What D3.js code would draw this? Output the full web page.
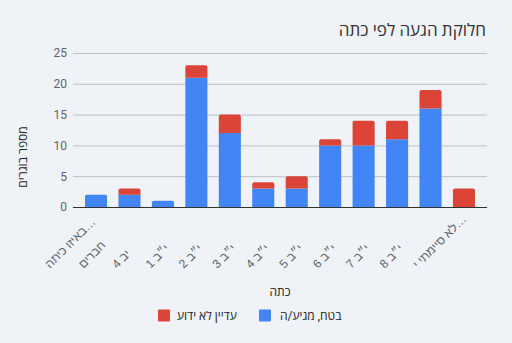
<!DOCTYPE html>
<html><head><meta charset="utf-8">
<script src="https://cdn.jsdelivr.net/npm/d3@7"></script>
<style>
html,body{margin:0;padding:0;background:#eff2f7;}
svg{display:block;font-family:Roboto,"Open Sans",Arial,sans-serif;}
</style></head><body>
<svg id="c" width="512" height="343"></svg>
<script>
const categories = ["באיזו כיתה…","חברים","יב 4","י״ב 1","י״ב 2","י״ב 3","י״ב 4","י״ב 5","י״ב 6","י״ב 7","י״ב 8","לא סיימתי י…"];
const seriesNames = ["בטח, מגיע/ה","עדיין לא ידוע"];
const comingValues  = [2,2,1,21,12,3,3,10,10,11,16,0];
const unknownValues = [0,1,0,2,3,1,2,1,4,3,3,3];
const yTicks = [0,5,10,15,20,25];
const colors = ["#4285f4","#db4437"];

const svg = d3.select("#c");
const W=512,H=343;
svg.append("rect").attr("width",W).attr("height",H).attr("fill","#eff2f7");

const x = d3.scaleBand().domain(categories).range([79.3,480.7]).paddingInner(0.34).paddingOuter(0.17);
const y = d3.scaleLinear().domain([0,25]).range([207,53]);
const gridL=73, gridR=487;

// gridlines
svg.append("g").selectAll("line").data(yTicks.filter(t=>t>0)).join("line")
  .attr("x1",gridL).attr("x2",gridR).attr("y1",d=>y(d)+0.5).attr("y2",d=>y(d)+0.5)
  .attr("stroke","#bdc1c6").attr("stroke-width",1);

// y axis tick labels via d3 axis
const yAxis = d3.axisLeft(y).tickValues(yTicks).tickSize(0).tickPadding(0);
const yg = svg.append("g").attr("transform",`translate(${gridL-6},0)`).call(yAxis);
yg.select(".domain").remove();
yg.selectAll("text").attr("fill","#5f6368").attr("font-size",12).attr("font-family","Roboto,Arial,sans-serif");

// stacked data
const rows = categories.map((c,i)=>({cat:c, s0:comingValues[i], s1:unknownValues[i]}));
const stack = d3.stack().keys(["s0","s1"])(rows);
const r=2;
function barPath(x0,w,yTop,yBot,rounded){
  if(yBot-yTop<=0) return "";
  if(!rounded) return `M${x0},${yBot}V${yTop}H${x0+w}V${yBot}Z`;
  const rr=Math.min(r,(yBot-yTop));
  return `M${x0},${yBot}V${yTop+rr}Q${x0},${yTop} ${x0+rr},${yTop}H${x0+w-rr}Q${x0+w},${yTop} ${x0+w},${yTop+rr}V${yBot}Z`;
}
stack.forEach((layer,li)=>{
  svg.append("g").selectAll("path").data(layer).join("path")
    .attr("fill",colors[li])
    .attr("d",(d,i)=>{
      const isTop = li===1 || unknownValues[i]===0;
      return barPath(x(d.data.cat),x.bandwidth(),y(d[1]),y(d[0]),isTop);
    });
});

// baseline
svg.append("line").attr("x1",gridL).attr("x2",gridR).attr("y1",y(0)+0.5).attr("y2",y(0)+0.5)
  .attr("stroke","#333").attr("stroke-width",1);

// x labels (visual left end anchored below-left of each bar)
const xAxis = d3.axisBottom(x).tickSize(0).tickPadding(0);
const xg = svg.append("g").attr("transform",`translate(0,${y(0)})`).call(xAxis);
xg.select(".domain").remove();
xg.selectAll("text")
  .attr("fill","#5f6368").attr("font-size",12)
  .attr("text-anchor","start")
  .attr("y",null).attr("dy",null).attr("x",0)
  .attr("transform",`translate(-46,62) rotate(-45)`);

// title
svg.append("text").attr("x",486).attr("y",36).attr("text-anchor","end")
  .attr("font-size",17).attr("fill","#333").text("חלוקת הגעה לפי כתה");

// y axis title
svg.append("text").attr("transform","translate(26.5,157) rotate(-90)").attr("text-anchor","middle")
  .attr("font-size",12).attr("fill","#222").text("מספר בוגרים");

// x axis title
svg.append("text").attr("x",280).attr("y",296).attr("text-anchor","middle")
  .attr("font-size",12).attr("fill","#222").text("כתה");

// legend
const legend = [{name:seriesNames[0],color:colors[0],sx:259,tx:280},{name:seriesNames[1],color:colors[1],sx:158,tx:177}];
const lg = svg.append("g").selectAll("g").data(legend).join("g");
lg.append("rect").attr("x",d=>d.sx).attr("y",309.5).attr("width",12).attr("height",12).attr("rx",1).attr("fill",d=>d.color);
lg.append("text").attr("x",d=>d.tx).attr("y",320).attr("font-size",12).attr("fill","#222").text(d=>d.name);
</script>
</body></html>
